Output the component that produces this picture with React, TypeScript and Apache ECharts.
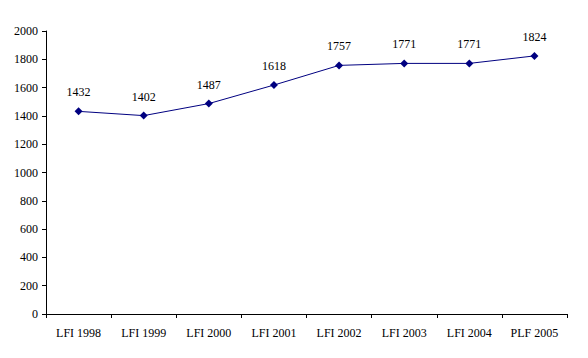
import React, { useEffect, useRef } from "react";
import * as echarts from "echarts";

const categories = ["LFI 1998", "LFI 1999", "LFI 2000", "LFI 2001", "LFI 2002", "LFI 2003", "LFI 2004", "PLF 2005"];
const values = [1432, 1402, 1487, 1618, 1757, 1771, 1771, 1824];

const font = "'Liberation Serif', 'Times New Roman', serif";

export default function App() {
  const ref = useRef<HTMLDivElement>(null);
  useEffect(() => {
    const chart = echarts.init(ref.current!, null, { renderer: "svg" });
    chart.setOption({
      animation: false,
      grid: { left: 46, right: 21, top: 31, bottom: 44 },
      xAxis: {
        type: "category",
        data: categories,
        boundaryGap: true,
        axisLine: { lineStyle: { color: "#000", width: 1 } },
        axisTick: { show: true, alignWithLabel: false, length: 4, lineStyle: { color: "#000" } },
        axisLabel: { color: "#000", fontFamily: font, fontSize: 12, margin: 13, interval: 0 },
        splitLine: { show: false },
      },
      yAxis: {
        type: "value",
        min: 0,
        max: 2000,
        interval: 200,
        axisLine: { show: true, lineStyle: { color: "#000", width: 1 } },
        axisTick: { show: true, length: 4, lineStyle: { color: "#000" } },
        axisLabel: { color: "#000", fontFamily: font, fontSize: 12, margin: 8, formatter: (v: number) => String(v) },
        splitLine: { show: false },
      },
      series: [
        {
          type: "line",
          data: values,
          symbol: "diamond",
          symbolSize: 8,
          itemStyle: { color: "#000080" },
          lineStyle: { color: "#000080", width: 1 },
          label: { show: true, position: "top", distance: 9, color: "#000000", fontFamily: font, fontSize: 12, textBorderWidth: 0 },
        },
      ],
    });
    return () => chart.dispose();
  }, []);
  return <div ref={ref} style={{ width: 588, height: 358, position: "absolute", left: 0, top: 0 }} />;
}
